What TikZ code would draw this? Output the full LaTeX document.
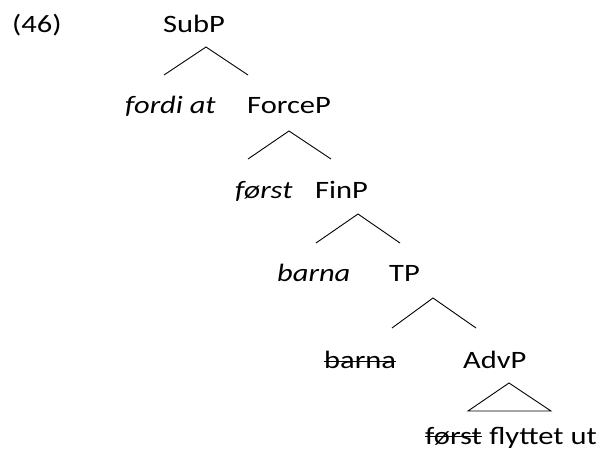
\documentclass[tikz,border=0pt]{standalone}
\usepackage{fontspec}
\setmainfont{Carlito}[FakeStretch=1.22]

\begin{document}
\begin{tikzpicture}[x=1pt, y=-1pt,
    lbl/.style={anchor=base west, inner sep=0pt, font=\fontsize{25}{29}\selectfont},
    branch/.style={line width=0.9pt},
    strike/.style={line width=1.8pt}]
    \useasboundingbox (0,0) rectangle (600,454);

    % labels
    \node[lbl] (num) at (12,33) {(46)};
    \node[lbl] (subp) at (163,33) {SubP};
    \node[lbl] (fordi) at (125,114) {\textit{fordi at}};
    \node[lbl] (forcep) at (247,114) {ForceP};
    \node[lbl] (forst) at (235,199) {\textit{først}};
    \node[lbl] (finp) at (315,199) {FinP};
    \node[lbl] (barna) at (277,282) {\textit{barna}};
    \node[lbl] (tp) at (389,282) {TP};
    \node[lbl] (barnacopy) at (324,369) {barna};
    \node[lbl] (advp) at (463,369) {AdvP};
    \node[lbl] (forstcopy) at (425,444) {først};
    \node[lbl] (vp) at ([xshift=7pt]forstcopy.base east) {flyttet ut};

    % struck-out copies
    \draw[strike] ([yshift=7.5pt]barnacopy.base west) -- ([yshift=7.5pt]barnacopy.base east);
    \draw[strike] ([yshift=7.5pt]forstcopy.base west) -- ([yshift=7.5pt]forstcopy.base east);

    % branch points
    \coordinate (subp-top) at (206,47);
    \coordinate (subp-l) at (164,75);
    \coordinate (subp-r) at (248,75);
    \coordinate (forcep-top) at (289,131);
    \coordinate (forcep-l) at (248,159);
    \coordinate (forcep-r) at (331,159);
    \coordinate (finp-top) at (358,214);
    \coordinate (finp-l) at (316,243);
    \coordinate (finp-r) at (400,243);
    \coordinate (tp-top) at (433,298);
    \coordinate (tp-l) at (392,328);
    \coordinate (tp-r) at (476,328);
    \coordinate (advp-top) at (509,383);
    \coordinate (advp-l) at (468,411);
    \coordinate (advp-r) at (551,411);

    \draw[branch] (subp-l) -- (subp-top) -- (subp-r);
    \draw[branch] (forcep-l) -- (forcep-top) -- (forcep-r);
    \draw[branch] (finp-l) -- (finp-top) -- (finp-r);
    \draw[branch] (tp-l) -- (tp-top) -- (tp-r);
    \draw[branch] (advp-l) -- (advp-top) -- (advp-r) -- cycle;
\end{tikzpicture}
\end{document}
